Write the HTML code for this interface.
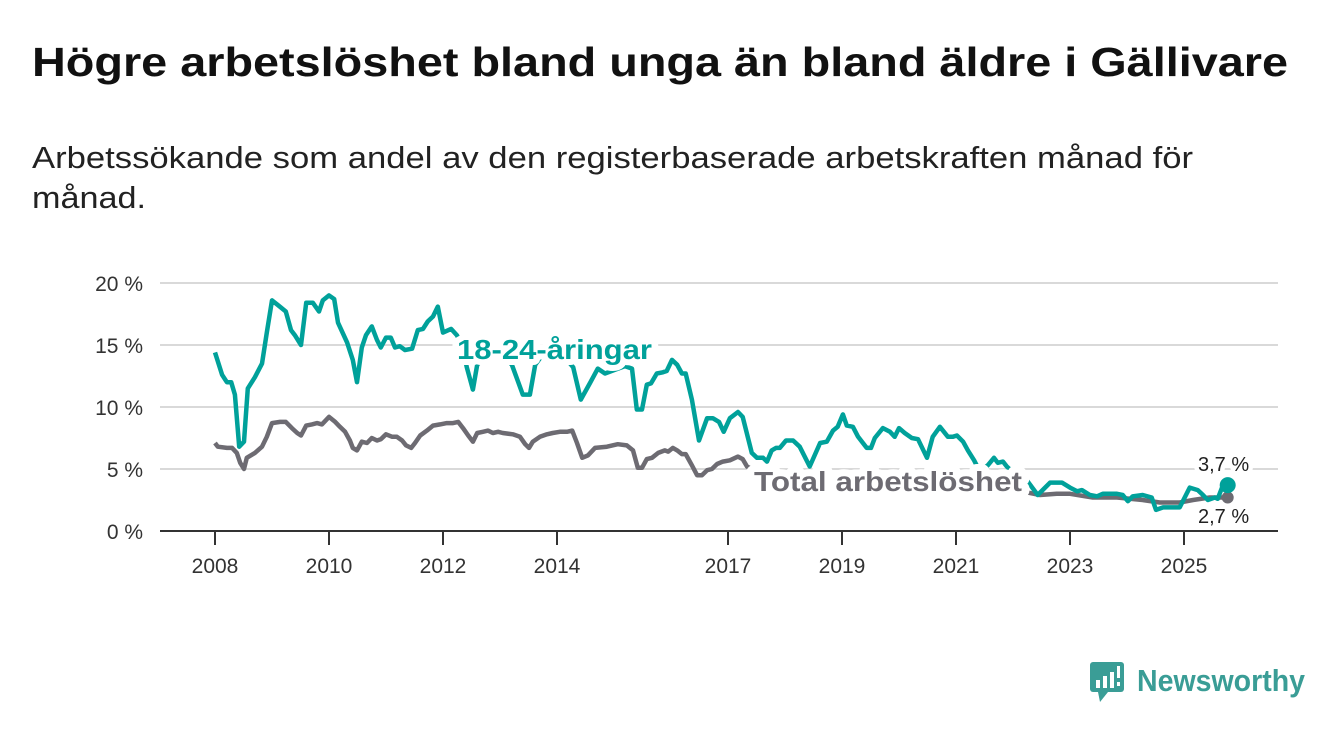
<!DOCTYPE html>
<html><head><meta charset="utf-8"><style>
html,body{margin:0;padding:0;background:#fff;}
svg{display:block;font-family:"Liberation Sans",sans-serif;}
</style></head><body>
<svg id="chart" width="1340" height="734" viewBox="0 0 1340 734">
<text x="32" y="76" font-size="41" font-weight="bold" fill="#111" textLength="1256" lengthAdjust="spacingAndGlyphs">Högre arbetslöshet bland unga än bland äldre i Gällivare</text>
<text x="32" y="168" font-size="31" fill="#222" textLength="1161" lengthAdjust="spacingAndGlyphs">Arbetssökande som andel av den registerbaserade arbetskraften månad för</text>
<text x="32" y="208" font-size="31" fill="#222" textLength="114" lengthAdjust="spacingAndGlyphs">månad.</text>
<g id="grid"></g><g id="xaxis"></g><g id="series"></g><g id="labels"></g>
<g>
<rect x="1090" y="662" width="34" height="30" rx="3" fill="#3a9d96"/>
<polygon points="1098,692 1108,692 1100,702" fill="#3a9d96"/>
<rect x="1096" y="680" width="4" height="8" fill="#fff"/><rect x="1103" y="676" width="4" height="12" fill="#fff"/><rect x="1110" y="672" width="4" height="16" fill="#fff"/><rect x="1117" y="666" width="3" height="12" fill="#fff"/><rect x="1117" y="682" width="3" height="4" fill="#fff"/>
<text x="1137" y="691" font-size="31" font-weight="bold" fill="#3a9d96" textLength="168" lengthAdjust="spacingAndGlyphs">Newsworthy</text>
</g>
</svg>
<script>
const yTicks=[0,5,10,15,20];
const yTickLabels=["0 %","5 %","10 %","15 %","20 %"];
const xTickYears=[2008,2010,2012,2014,2017,2019,2021,2023,2025];
const youthMonths=[0,1.5,2.5,3.4,4.2,5.1,6.1,6.9,8.4,9.9,10.9,12,13.3,14.9,16,16.8,18.1,19.2,20.6,21.9,22.7,24,25.1,25.9,27.8,29,29.9,30.9,31.8,33,34.1,34.9,36,37,37.9,38.9,40,41.5,42.7,43.8,44.8,45.9,46.9,48,49.7,50.9,52,53,54.3,55.2,56.8,58.9,61,62.5,64.8,66.3,67.4,69.5,72.6,75.4,77,78.9,80.6,82.1,84.2,86.3,87.8,88.8,89.9,90.9,91.8,93,94.3,95.1,96.2,97.3,98.3,99.1,100.4,101.9,103.6,104.8,106.1,107.1,108.4,110.1,111.1,113,114.1,115.4,116.2,117.2,118.1,118.9,120.2,121.7,123.1,125.2,127.4,128.8,130.1,131.1,132.2,133,134.3,135.4,137.2,138.1,138.9,140.6,142.1,143.1,144,145.2,146.7,148,149.9,151.1,152.6,154.3,155.3,156.2,157.5,158.5,159.8,161,162.7,164,164.8,165.9,166.7,168.4,171.1,173.2,175.8,177.2,178.3,180,181.5,182.5,184.2,185.7,186.9,189.9,191.1,192.2,193.2,195.3,197.2,198.1,199.6,201.7,203.1,205.2,206.9,208,209,210.5,211.1,212.2,213.2];
const youthValues=[14.4,12.6,12,12,11,6.8,7.2,11.5,12.4,13.5,16,18.6,18.2,17.7,16.2,15.8,15,18.4,18.4,17.7,18.6,19,18.7,16.8,15.2,13.8,12,14.8,15.8,16.5,15.4,14.8,15.6,15.6,14.8,14.9,14.6,14.7,16.2,16.3,16.9,17.3,18.1,16,16.3,15.8,15,13.2,11.4,13.4,14,14.5,14,13.4,11,11,13.4,14.5,14.5,13.2,10.6,11.9,13.1,12.7,13,13.3,13.1,9.8,9.8,11.8,11.9,12.7,12.8,12.9,13.8,13.4,12.7,12.7,10.6,7.3,9.1,9.1,8.8,8,9.1,9.6,9.2,6.3,5.9,5.9,5.6,6.5,6.7,6.7,7.3,7.3,6.8,5.2,7.1,7.2,8.1,8.4,9.4,8.5,8.4,7.6,6.7,6.7,7.5,8.3,8,7.6,8.3,7.9,7.5,7.4,5.9,7.6,8.4,7.6,7.6,7.7,7.2,6.5,5.7,4.8,5.3,5.9,5.5,5.6,5.2,4.6,4,2.9,3.9,3.9,3.9,3.5,3.2,3.3,2.9,2.8,3,3,2.9,2.4,2.8,2.9,2.7,1.7,1.9,1.9,1.9,3.5,3.3,2.9,2.5,2.7,2.6,3.7,3.7];
const totalMonths=[0,0.6,2.5,3.6,4.6,5.3,6.1,6.7,8.4,9.9,10.9,12,13.7,14.9,16.2,17.3,18.1,19.2,20.4,21.5,22.5,24,25.3,26.3,27.4,28.4,29,29.9,30.9,32,33,34.1,34.9,36,37.3,38.3,39.4,40.2,41.3,42.1,43.2,44.6,45.9,47.4,48.8,50.1,51.2,52.2,53.3,54.3,55.2,56.4,57.5,58.5,59.6,60.6,62.7,64.2,65.3,66.1,66.9,68.4,69.9,71.1,72.6,74.1,75.2,76.2,77.3,78.5,80,82.5,84.8,86.7,88,89,89.9,90.9,92,93.3,94.7,95.4,96.4,97.3,98.3,99.1,100.4,101.5,102.5,103.6,104.6,105.7,106.9,108.4,110.1,111.1,112,114.7,123.1,133.7,144.2,154.7,165.2,171.1,173.7,177.2,180,184.8,189.9,195.3,198.9,203.1,205.9,209.4,213.2];
const totalValues=[7.1,6.8,6.7,6.7,6.3,5.5,5,5.9,6.3,6.8,7.6,8.7,8.8,8.8,8.3,7.9,7.7,8.5,8.6,8.7,8.6,9.2,8.8,8.4,8,7.3,6.7,6.5,7.2,7.1,7.5,7.3,7.4,7.8,7.6,7.6,7.3,6.9,6.7,7.1,7.7,8.1,8.5,8.6,8.7,8.7,8.8,8.3,7.7,7.2,7.9,8,8.1,7.9,8,7.9,7.8,7.6,7,6.7,7.2,7.6,7.8,7.9,8,8,8.1,7.1,5.9,6.1,6.7,6.8,7,6.9,6.5,5.1,5.1,5.8,5.9,6.3,6.5,6.4,6.7,6.5,6.2,6.2,5.3,4.5,4.5,4.9,5,5.4,5.6,5.7,6,5.8,5.2,4.6,4.4,4.3,4.3,4.2,3.8,3.1,2.9,3,3,2.7,2.7,2.5,2.3,2.3,2.5,2.7,2.7];
const youthLast="3,7 %", totalLast="2,7 %";

const NS="http://www.w3.org/2000/svg";
const X0=215, PXY=57, Y0=531, PXV=12.4;
const xm=m=>X0+m/12*PXY;
const xy=yr=>X0+(yr-2008)*PXY;
const yv=v=>Y0-v*PXV;
function mk(tag,attrs,parent){const e=document.createElementNS(NS,tag);for(const k in attrs)e.setAttribute(k,attrs[k]);parent.appendChild(e);return e;}
const grid=document.getElementById('grid');
yTicks.forEach((t,i)=>{
  if(t>0){const l=mk('line',{x1:160,x2:1278,y1:yv(t),y2:yv(t),stroke:'#d9d9d9','stroke-width':2},grid);
  
  }
  const tx=mk('text',{x:143,y:yv(t)+8,'font-size':21,fill:'#333','text-anchor':'end'},grid);
  tx.textContent=yTickLabels[i];
  
  
});
const xa=document.getElementById('xaxis');
const axl=mk('line',{x1:160,x2:1278,y1:Y0,y2:Y0,stroke:'#333','stroke-width':2},xa);


xTickYears.forEach(yr=>{
  mk('line',{x1:xy(yr),x2:xy(yr),y1:Y0,y2:Y0+14,stroke:'#333','stroke-width':2},xa);
  const t=mk('text',{x:xy(yr),y:573,'font-size':21,fill:'#333','text-anchor':'middle'},xa);
  t.textContent=yr;
  
  
});
const sg=document.getElementById('series');
function pathOf(ms,vs){return ms.map((m,i)=>(i?'L':'M')+xm(m).toFixed(1)+','+yv(vs[i]).toFixed(1)).join('');}
const pt=mk('path',{d:pathOf(totalMonths,totalValues),fill:'none',stroke:'#6d6b72','stroke-width':4.5,'stroke-linejoin':'round'},sg);


const py=mk('path',{d:pathOf(youthMonths,youthValues),fill:'none',stroke:'#00a19a','stroke-width':4.5,'stroke-linejoin':'round'},sg);


const lt=totalMonths.length-1, ly=youthMonths.length-1;
const dt=mk('circle',{cx:xm(totalMonths[lt]),cy:yv(totalValues[lt]),r:6,fill:'#6d6b72'},sg);


const dy=mk('circle',{cx:xm(youthMonths[ly]),cy:yv(youthValues[ly]),r:8,fill:'#00a19a'},sg);


const lg=document.getElementById('labels');
function lab(txt,x,y,size,fill,bold,name,len,sw){
  const a={x:x,y:y,'font-size':size,fill:fill,stroke:'#fff','stroke-width':sw||9,'stroke-linejoin':'round','paint-order':'stroke'};
  if(bold)a['font-weight']='bold';
  if(len){a.textLength=len;a.lengthAdjust='spacingAndGlyphs';}
  const t=mk('text',a,lg);t.textContent=txt;
  
  
}
lab('18-24-åringar',457,359,28,'#00a19a',true,'youth-series-label',195,12);
lab('Total arbetslöshet',754,491,28,'#6d6b72',true,'total-series-label',268,14);
lab(youthLast,1198,471,20,'#222',false,'youth-last-value');
lab(totalLast,1198,523,20,'#222',false,'total-last-value');
</script>
</body></html>
